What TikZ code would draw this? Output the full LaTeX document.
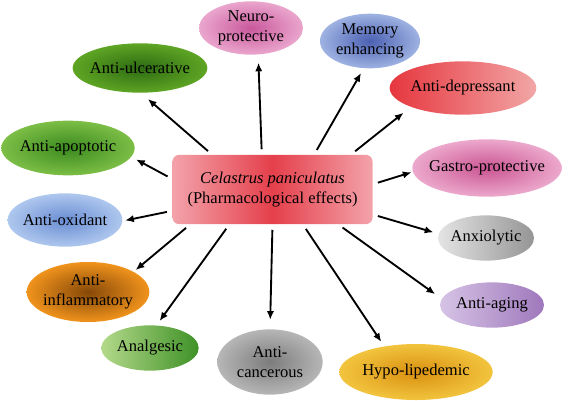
\documentclass[tikz,border=0pt]{standalone}
\usepackage{fontspec}
\setmainfont{Liberation Serif}
\usepackage{tikz}
\usetikzlibrary{
    arrows.meta,
    shapes.geometric
}
\newcommand{\effectfont}{\fontsize{12.4}{15}\selectfont}

\definecolor{hubred}{HTML}{E5404B}
\definecolor{hubpink}{HTML}{F3A2AA}
\definecolor{neuroin}{HTML}{C9589C}
\definecolor{neuroout}{HTML}{EAA6CD}
\definecolor{memin}{HTML}{4B60B2}
\definecolor{memout}{HTML}{9EB2E2}
\definecolor{depleft}{HTML}{E6363E}
\definecolor{depright}{HTML}{F2A6A6}
\definecolor{gastroin}{HTML}{CA5592}
\definecolor{gastroout}{HTML}{ECA8CC}
\definecolor{anxleft}{HTML}{E4E4E4}
\definecolor{anxright}{HTML}{959595}
\definecolor{ageleft}{HTML}{D6C3E5}
\definecolor{ageright}{HTML}{9F78BC}
\definecolor{hypoin}{HTML}{D99010}
\definecolor{hypoout}{HTML}{F2C43E}
\definecolor{cancin}{HTML}{7C7C7C}
\definecolor{cancout}{HTML}{B6B6B6}
\definecolor{analleft}{HTML}{B3D98A}
\definecolor{analright}{HTML}{3F9127}
\definecolor{inflin}{HTML}{864808}
\definecolor{inflout}{HTML}{F0931C}
\definecolor{oxin}{HTML}{6A8DD3}
\definecolor{oxout}{HTML}{AEC7EE}
\definecolor{apoin}{HTML}{3A8A1E}
\definecolor{apoout}{HTML}{7CBE46}
\definecolor{ulcin}{HTML}{2D6A12}
\definecolor{ulcout}{HTML}{5EA524}

\begin{document}
\begin{tikzpicture}[
    x=0.75pt, y=-0.75pt,
    hub/.style={
        rounded corners=5pt,
        minimum width=150pt,
        minimum height=52pt,
        align=center,
        font=\effectfont,
        left color=hubpink,
        right color=hubpink,
        middle color=hubred
    },
    effect/.style={
        ellipse,
        inner xsep=-8pt,
        inner ysep=-4pt,
        align=center,
        font=\effectfont
    },
    arrow/.style={
        -{Latex[length=6.5pt,width=5.5pt]},
        line width=1.4pt,
        shorten <=4pt,
        shorten >=4pt
    }
]
\useasboundingbox (0,0) rectangle (570,400);

\node[hub] (hub) at (272.5,189.5)
    {\textit{Celastrus paniculatus}\\(Pharmacological effects)};

% effects, clockwise from the top
\node[effect, minimum width=78pt, minimum height=40pt,
      inner color=neuroin, outer color=neuroout]
    (neuro) at (251,28) {Neuro-\\protective};
\node[effect, minimum width=75pt, minimum height=41pt,
      inner color=memin, outer color=memout]
    (memory) at (370,41) {Memory\\enhancing};
\node[effect, minimum width=110pt, minimum height=40pt,
      left color=depleft, right color=depright]
    (depress) at (463,88) {Anti-depressant};
\node[effect, minimum width=112pt, minimum height=43pt,
      inner color=gastroin, outer color=gastroout]
    (gastro) at (487,168) {Gastro-protective};
\node[effect, minimum width=72pt, minimum height=34pt,
      left color=anxleft, right color=anxright]
    (anxio) at (486,238) {Anxiolytic};
\node[effect, minimum width=78pt, minimum height=34pt,
      left color=ageleft, right color=ageright]
    (aging) at (492,305) {Anti-aging};
\node[effect, minimum width=115pt, minimum height=42pt,
      inner color=hypoin, outer color=hypoout]
    (hypo) at (416,372) {Hypo-lipedemic};
\node[effect, minimum width=79pt, minimum height=49pt,
      inner color=cancin, outer color=cancout]
    (cancer) at (270,362) {Anti-\\cancerous};
\node[effect, minimum width=73pt, minimum height=34pt,
      left color=analleft, right color=analright]
    (analg) at (150,348) {Analgesic};
\node[effect, minimum width=92pt, minimum height=45pt,
      inner color=inflin, outer color=inflout]
    (inflam) at (88,292) {Anti-\\inflammatory};
\node[effect, minimum width=86pt, minimum height=40pt,
      inner color=oxin, outer color=oxout]
    (oxid) at (65,220) {Anti-oxidant};
\node[effect, minimum width=100pt, minimum height=41pt,
      inner color=apoin, outer color=apoout]
    (apopt) at (68,148) {Anti-apoptotic};
\node[effect, minimum width=101pt, minimum height=37pt,
      inner color=ulcin, outer color=ulcout]
    (ulcer) at (140,68) {Anti-ulcerative};

\draw[arrow, shorten >=7pt] (hub.150) -- (ulcer.-88);
\draw[arrow, shorten >=6pt] (hub.107) -- (neuro.-75);
\draw[arrow] (hub.40) -- (memory.-103);
\draw[arrow, shorten >=7pt] (hub.24) -- (depress.-160);
\draw[arrow, shorten >=1pt] (hub.3) -- (gastro.-177);
\draw[arrow] (hub.-14) -- (anxio.175);
\draw[arrow, shorten >=6pt] (hub.-28) -- (aging.173);
\draw[arrow] (hub.-49) -- (hypo.141);
\draw[arrow, shorten >=7pt] (hub.-90) -- (cancer.90);
\draw[arrow] (hub.-141) -- (analg.74);
\draw[arrow, shorten >=2pt] (hub.-157) -- (inflam.24);
\draw[arrow, shorten >=2pt] (hub.-168) -- (oxid.-1);
\draw[arrow] (hub.174) -- (apopt.-8);

\end{tikzpicture}
\end{document}
